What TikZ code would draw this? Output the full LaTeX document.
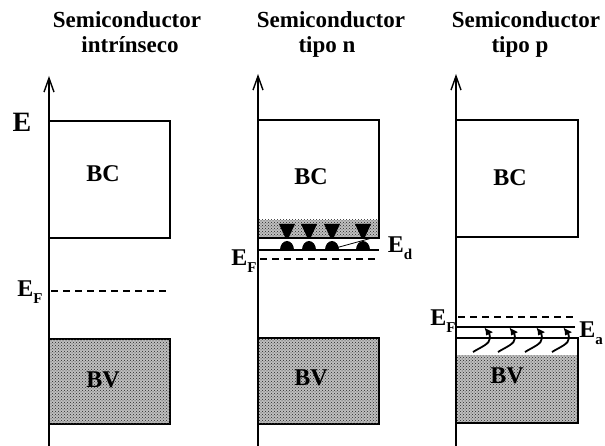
\documentclass[tikz,border=0pt]{standalone}
\usepackage{fontspec}
\setmainfont{Liberation Serif}
\usetikzlibrary{arrows.meta,patterns,bending}
\tikzset{
  axis/.style={line width=1.1pt,-{Straight Barb[length=14pt,width=10pt,line width=1.4pt]}},
  band/.style={line width=1.1pt},
  shade/.style={fill=gray!50,postaction={pattern=crosshatch dots,pattern color=black!85}},
  efline/.style={line width=1.3pt,dash pattern=on 7pt off 5pt},
  lvl/.style={line width=1.6pt},
  title/.style={font=\bfseries\fontsize{23}{25}\selectfont,anchor=base,inner sep=0pt},
  blab/.style={font=\bfseries\fontsize{24}{26}\selectfont,inner sep=0pt},
  elab/.style={font=\bfseries\fontsize{24}{26}\selectfont,inner sep=0pt},
  hookarrow/.style={line width=1.8pt,-{Latex[length=8pt,width=8pt,bend]}},
}
\newcommand{\Esub}[1]{E\raisebox{-0.28em}{\fontsize{15}{15}\selectfont #1}}
\begin{document}
\begin{tikzpicture}[x=1pt,y=-1pt]
\useasboundingbox (0,0) rectangle (605,446);
% titles
\node[title] (t1a) at (127,28) {Semiconductor};
\node[title] (t1b) at (130,53) {intrínseco};
\node[title] (t2a) at (331,28) {Semiconductor};
\node[title] (t2b) at (327,53) {tipo n};
\node[title] (t3a) at (526,28) {Semiconductor};
\node[title] (t3b) at (520,53) {tipo p};
% ---------- panel 1
\coordinate (a1b) at (49,446);
\coordinate (a1t) at (49,76);
\draw[band] (49,121) rectangle (170,238);
\draw[band,shade] (49,339) rectangle (170,424);
\draw[axis] (a1b) -- (a1t);
\node[font=\bfseries\fontsize{28}{30}\selectfont,inner sep=0pt] (E) at (22,122) {E};
\node[blab] (bc1) at (103,174) {BC};
\node[blab] (bv1) at (103,380) {BV};
\coordinate (ef1a) at (51,291);
\coordinate (ef1b) at (166,291);
\draw[efline] (ef1a) -- (ef1b);
\node[elab] (ef1) at (30,292) {\Esub{F}};
% ---------- panel 2
\coordinate (a2b) at (258,446);
\coordinate (a2t) at (258,74);
\draw[band] (258,120) rectangle (379,238);
\draw[shade,draw=none] (259,220) rectangle (378,237);
\draw[band] (258,238) -- (379,238);
\draw[band,shade] (258,338) rectangle (379,424);
\draw[axis] (a2b) -- (a2t);
\node[blab] (bc2) at (311,177) {BC};
\node[blab] (bv2) at (311,378) {BV};
\coordinate (ed2a) at (258,250);
\coordinate (ed2b) at (379,250);
\draw[lvl] (ed2a) -- (ed2b);
\foreach \x in {287,309,332,363}{
  \fill (\x-8,224) -- (\x+8,224) -- (\x+2,237) -- (\x-2,237) -- cycle;
  \fill (\x-7,250) arc[start angle=180,end angle=0,x radius=7,y radius=-9] -- cycle;
}
\coordinate (sl2a) at (332,249);
\coordinate (sl2b) at (372,238);
\draw[line width=0.8pt] (sl2a) -- (sl2b);
\coordinate (ef2a) at (260,259);
\coordinate (ef2b) at (378,259);
\draw[efline] (ef2a) -- (ef2b);
\node[elab] (ed2) at (400,248) {\Esub{d}};
\node[elab] (ef2) at (244,261) {\Esub{F}};
% ---------- panel 3
\coordinate (a3b) at (456,446);
\coordinate (a3t) at (456,74);
\draw[band] (456,120) rectangle (578,237);
\draw[band] (456,338) rectangle (578,423);
\draw[shade,draw=none] (457,355) rectangle (577,422);
\draw[band] (456,423) -- (578,423);
\draw[axis] (a3b) -- (a3t);
\node[blab] (bc3) at (510,178) {BC};
\node[blab] (bv3) at (507,376) {BV};
\coordinate (ef3a) at (458,317);
\coordinate (ef3b) at (574,317);
\draw[efline] (ef3a) -- (ef3b);
\coordinate (ea3a) at (456,327);
\coordinate (ea3b) at (575,327);
\draw[lvl] (ea3a) -- (ea3b);
\foreach \x in {473,498,525,552}{
  \draw[hookarrow] (\x,352) .. controls (\x+8,347) and (\x+17,344) .. (\x+17,338)
     .. controls (\x+17,333) and (\x+14,330) .. (\x+11,328);
}
\node[elab] (ef3) at (443,321) {\Esub{F}};
\node[elab] (ea3) at (591,333) {\Esub{a}};
\end{tikzpicture}
\end{document}
